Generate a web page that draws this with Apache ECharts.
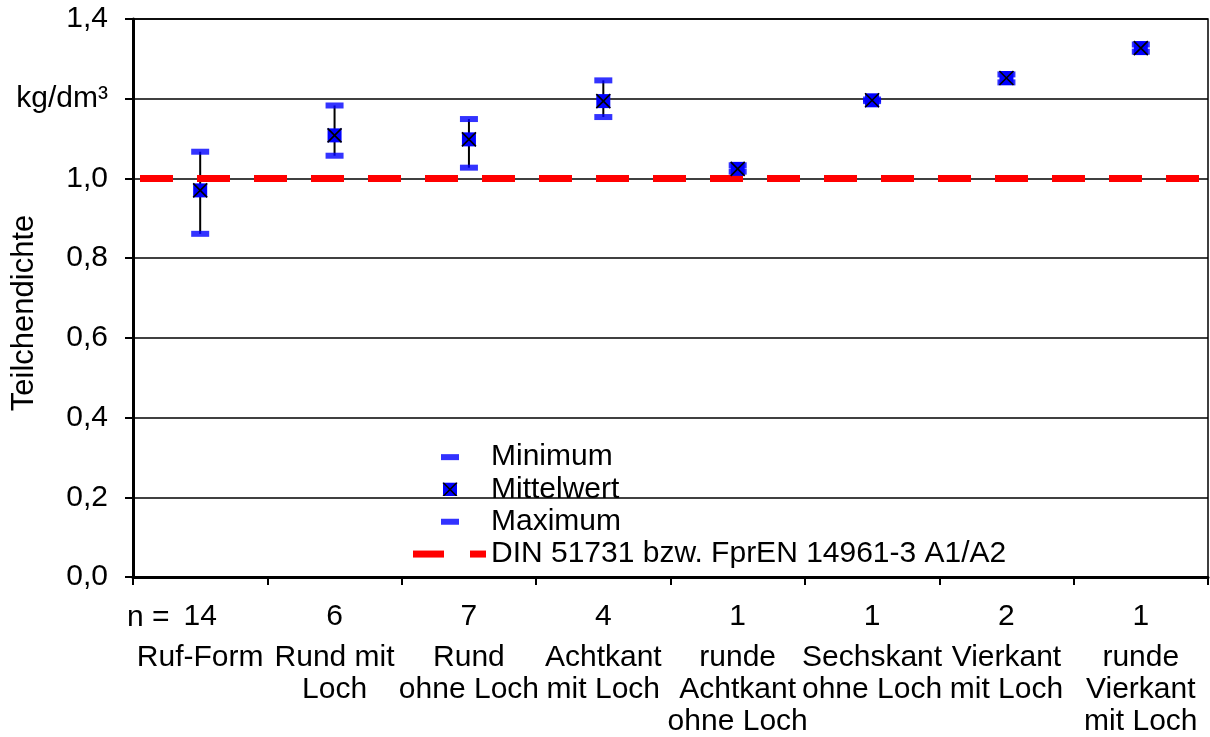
<!DOCTYPE html>
<html>
<head>
<meta charset="utf-8">
<script src="https://cdn.jsdelivr.net/npm/echarts@6/dist/echarts.min.js"></script>
<style>
html,body{margin:0;padding:0;background:#fff;}
#chart{width:1210px;height:737px;}
</style>
</head>
<body>
<div id="chart"></div>
<script>
// ---- data ----
const categories = ['Ruf-Form', 'Rund mit\nLoch', 'Rund\nohne Loch', 'Achtkant\nmit Loch', 'runde\nAchtkant\nohne Loch', 'Sechskant\nohne Loch', 'Vierkant\nmit Loch', 'runde\nVierkant\nmit Loch'];
const counts = [14, 6, 7, 4, 1, 1, 2, 1];
const minimum = [0.861, 1.057, 1.027, 1.154, 1.017, 1.194, 1.241, 1.318];
const mittelwert = [0.970, 1.108, 1.098, 1.194, 1.024, 1.196, 1.252, 1.327];
const maximum = [1.067, 1.183, 1.149, 1.246, 1.033, 1.198, 1.261, 1.336];
const dinValue = 1.0;
const yTickLabels = ['0,0', '0,2', '0,4', '0,6', '0,8', '1,0', 'kg/dm³', '1,4'];
const seriesNames = ['Minimum', 'Mittelwert', 'Maximum', 'DIN 51731 bzw. FprEN 14961-3 A1/A2'];

const FONT = "'Liberation Sans', Arial, sans-serif";
const FS = 30;
const BLUE = '#0000FF';
const RED = '#FF0000';

function svgIcon(inner) {
  const svg = '<svg xmlns="http://www.w3.org/2000/svg" width="73" height="14" viewBox="0 0 73 14">' + inner + '</svg>';
  return 'image://data:image/svg+xml;charset=utf-8,' + encodeURIComponent(svg);
}
const capIcon = svgIcon('<rect x="28" y="4" width="18" height="6" fill="' + BLUE + '"/>');
const meanIcon = svgIcon('<rect x="30" y="0" width="14" height="14" fill="' + BLUE + '"/><path d="M30 0 L44 14 M44 0 L30 14" stroke="#000" stroke-width="1.6"/>');
const dinIcon = svgIcon('<rect x="0" y="3.5" width="31" height="7" fill="' + RED + '"/><rect x="57" y="3.5" width="16" height="7" fill="' + RED + '"/>');

const chart = echarts.init(document.getElementById('chart'), null, {renderer: 'canvas'});

const option = {
  animation: false,
  backgroundColor: '#fff',
  textStyle: {fontFamily: FONT},
  grid: {left: 133, right: 2, top: 19, bottom: 158, show: true, borderColor: '#000', borderWidth: 1.5},
  legend: {
    orient: 'vertical',
    left: 413,
    top: 441,
    padding: 0,
    itemGap: 0,
    itemWidth: 73,
    itemHeight: 14,
    selectedMode: false,
    textStyle: {fontFamily: FONT, fontSize: FS, color: '#000', lineHeight: 32.3},
    data: [
      {name: seriesNames[0], icon: capIcon},
      {name: seriesNames[1], icon: meanIcon},
      {name: seriesNames[2], icon: capIcon},
      {name: seriesNames[3], icon: dinIcon}
    ]
  },
  xAxis: [{
    type: 'category',
    data: categories,
    boundaryGap: true,
    axisLine: {lineStyle: {color: '#000', width: 3}},
    axisTick: {show: true, length: 8, lineStyle: {color: '#000', width: 2}},
    axisLabel: {
      interval: 0,
      margin: 15,
      color: '#000',
      fontFamily: FONT,
      fontSize: FS,
      formatter: function (value, idx) {
        const lines = value.split('\n').map(l => '{c|' + l + '}').join('\n');
        return '{n|' + counts[idx] + '}\n' + lines;
      },
      rich: {
        n: {fontFamily: FONT, fontSize: FS, lineHeight: 50, color: '#000'},
        c: {fontFamily: FONT, fontSize: FS, lineHeight: 32, color: '#000'}
      }
    },
    splitLine: {show: false}
  }, {
    type: 'value',
    min: 0,
    max: 1,
    show: false
  }],
  yAxis: {
    type: 'value',
    min: 0,
    max: 1.4,
    interval: 0.2,
    axisLine: {show: true, lineStyle: {color: '#000', width: 3}},
    axisTick: {show: true, length: 8, lineStyle: {color: '#000', width: 2}},
    axisLabel: {
      margin: 25,
      color: '#000',
      fontFamily: FONT,
      fontSize: FS,
      formatter: function (v) { return yTickLabels[Math.round(v / 0.2)]; }
    },
    splitLine: {show: true, lineStyle: {color: '#000', width: 1.5}}
  },
  graphic: [
    {
      type: 'text',
      x: 24, y: 313,
      rotation: Math.PI / 2,
      style: {text: 'Teilchendichte', fontFamily: FONT, fontSize: 31, fill: '#000', align: 'center', verticalAlign: 'middle'}
    },
    {
      type: 'text',
      x: 127, y: 618,
      style: {text: 'n =', fontFamily: FONT, fontSize: FS, fill: '#000', align: 'left', verticalAlign: 'middle'}
    }
  ],
  series: [
    {
      name: 'whisker',
      type: 'custom',
      z: 1,
      silent: true,
      data: categories.map((c, i) => [i, minimum[i], maximum[i]]),
      renderItem: function (params, api) {
        const lo = api.coord([api.value(0), api.value(1)]);
        const hi = api.coord([api.value(0), api.value(2)]);
        return {type: 'line', shape: {x1: lo[0], y1: lo[1], x2: hi[0], y2: hi[1]}, style: {stroke: '#000', lineWidth: 2}};
      }
    },
    {
      name: seriesNames[3],
      type: 'line',
      xAxisIndex: 1,
      z: 2,
      symbol: 'none',
      data: [[0, dinValue], [1, dinValue]],
      lineStyle: {color: RED, width: 7, type: [33, 24], dashOffset: 50, cap: 'butt'},
      itemStyle: {color: RED}
    },
    {
      name: seriesNames[0],
      type: 'scatter',
      z: 3,
      symbol: 'rect',
      symbolSize: [18, 6],
      itemStyle: {color: BLUE},
      data: minimum
    },
    {
      name: seriesNames[2],
      type: 'scatter',
      z: 3,
      symbol: 'rect',
      symbolSize: [18, 6],
      itemStyle: {color: BLUE},
      data: maximum
    },
    {
      name: seriesNames[1],
      type: 'custom',
      z: 4,
      itemStyle: {color: BLUE},
      data: categories.map((c, i) => [i, mittelwert[i]]),
      renderItem: function (params, api) {
        const p = api.coord([api.value(0), api.value(1)]);
        const h = 7;
        return {
          type: 'group',
          children: [
            {type: 'rect', shape: {x: p[0] - h, y: p[1] - h, width: 2 * h, height: 2 * h}, style: {fill: BLUE}},
            {type: 'line', shape: {x1: p[0] - h, y1: p[1] - h, x2: p[0] + h, y2: p[1] + h}, style: {stroke: '#000', lineWidth: 1.6}},
            {type: 'line', shape: {x1: p[0] + h, y1: p[1] - h, x2: p[0] - h, y2: p[1] + h}, style: {stroke: '#000', lineWidth: 1.6}}
          ]
        };
      }
    }
  ]
};
chart.setOption(option);
</script>
</body>
</html>
